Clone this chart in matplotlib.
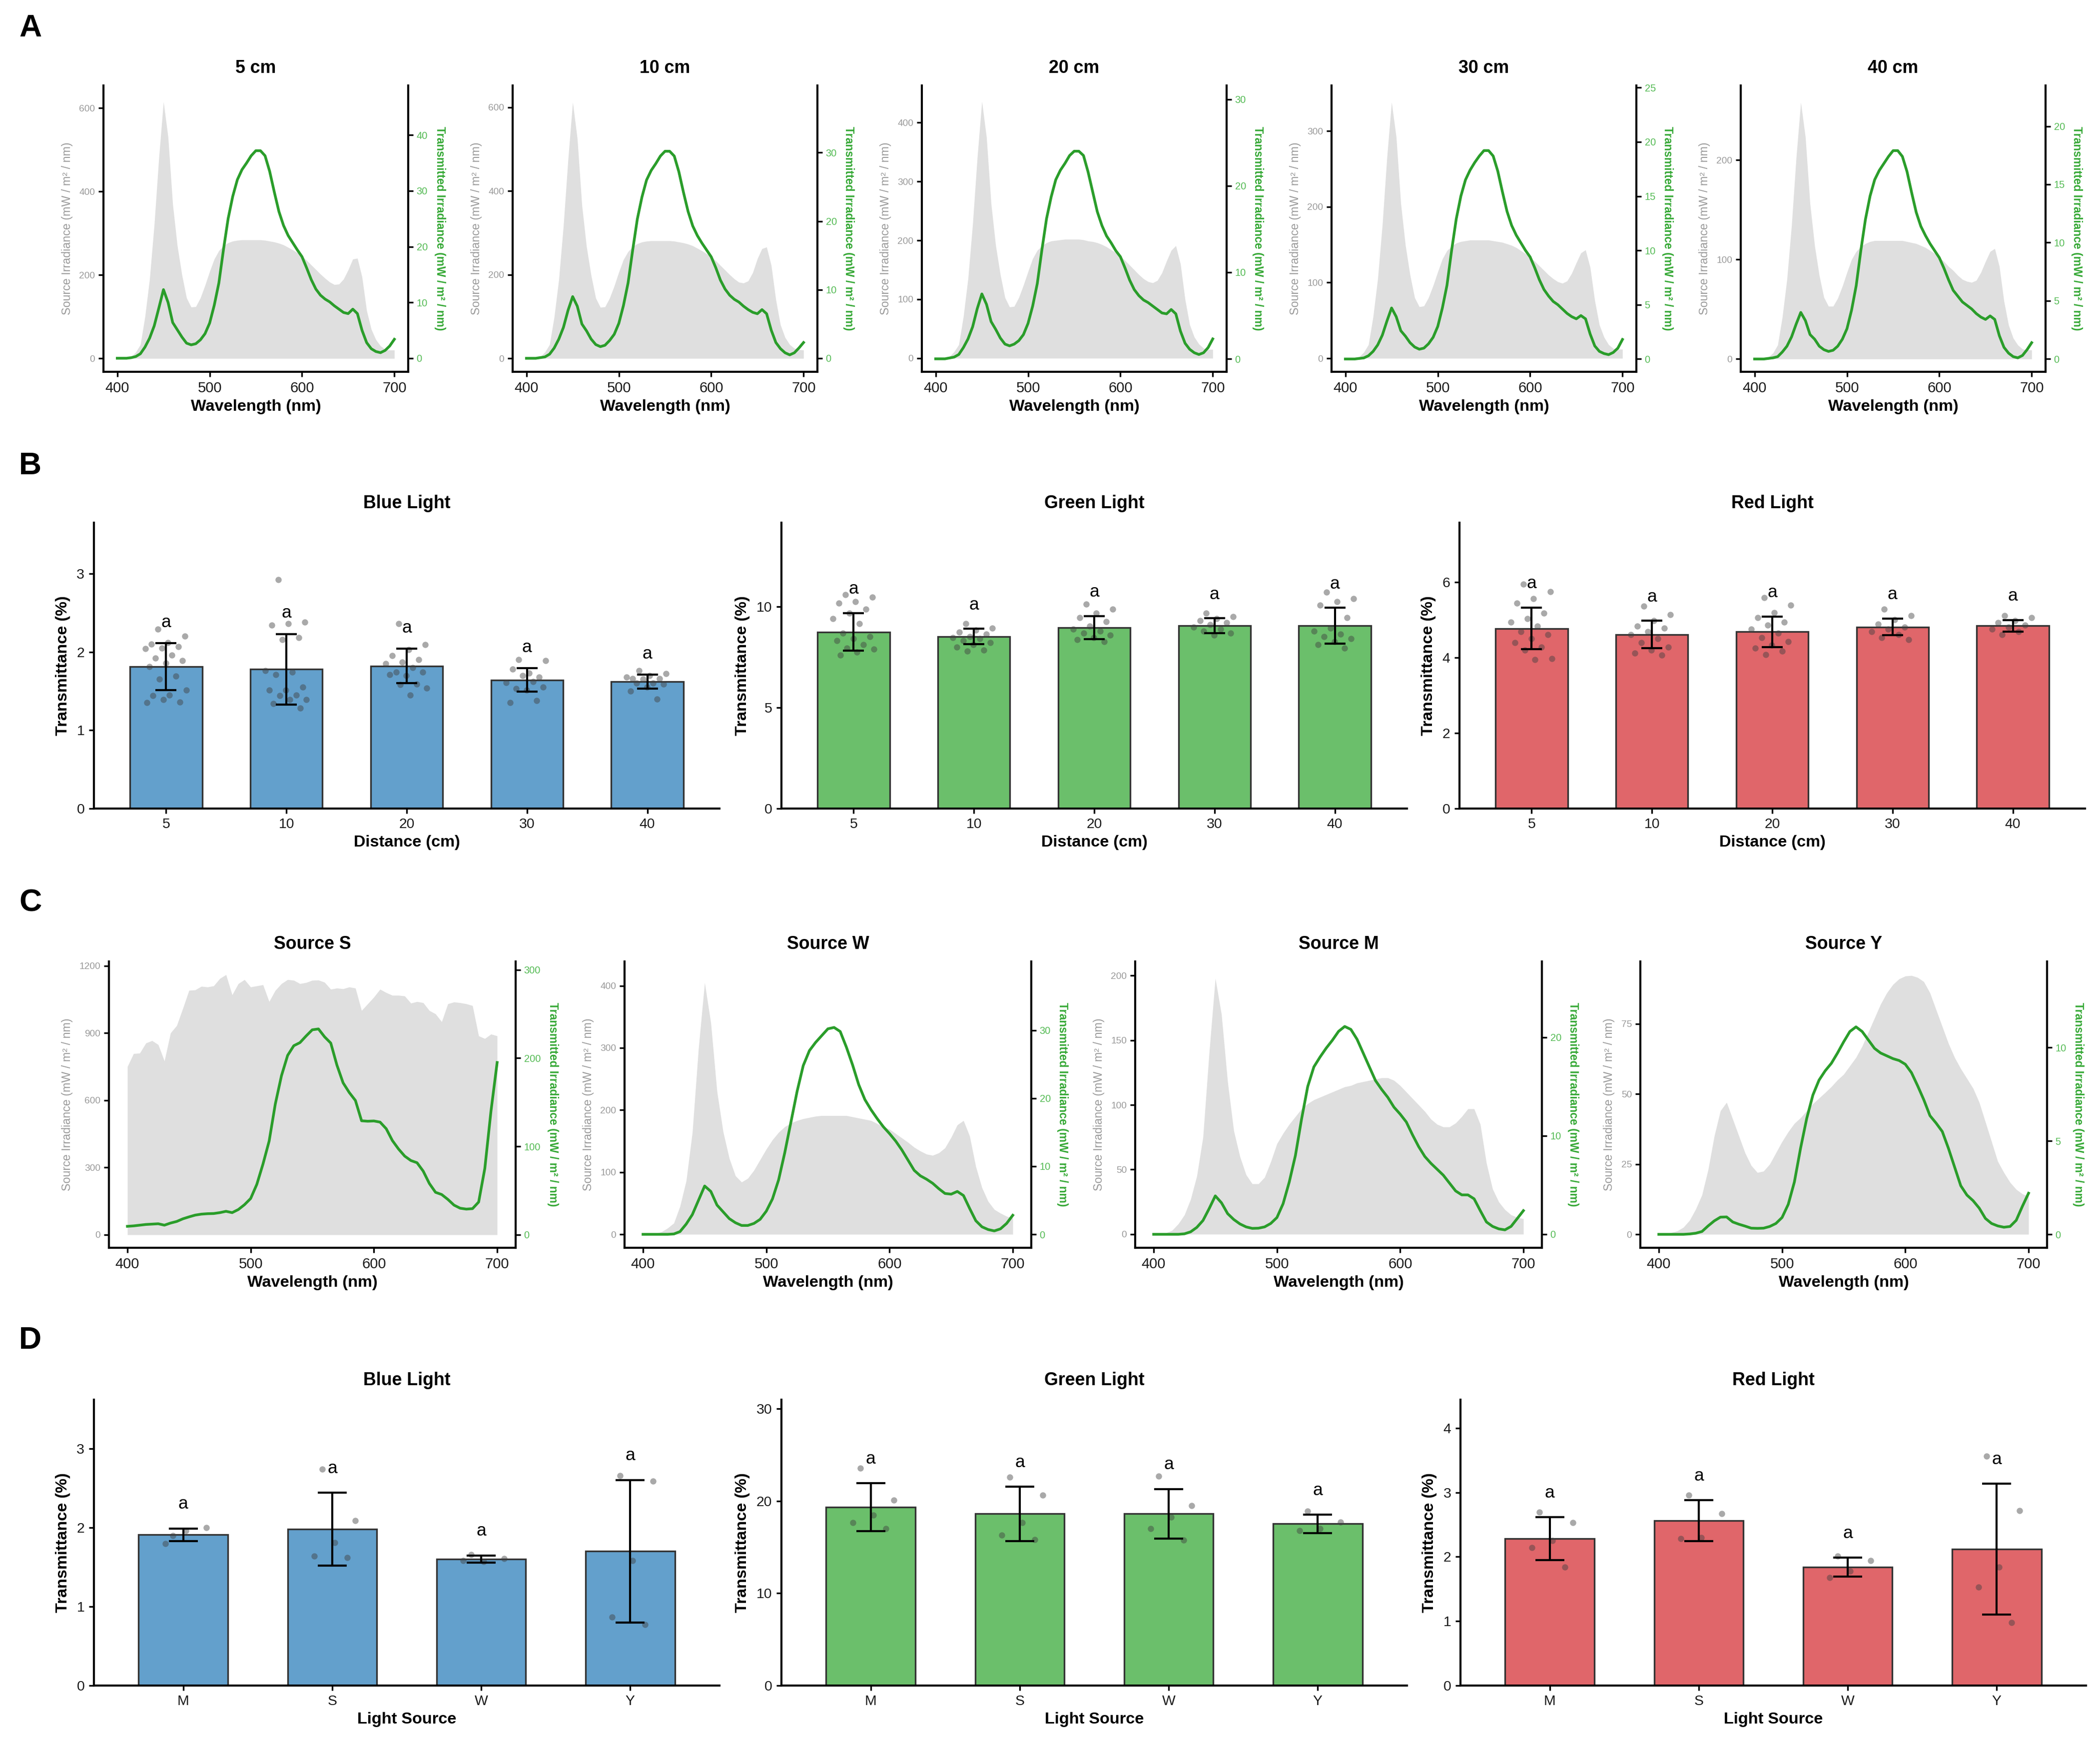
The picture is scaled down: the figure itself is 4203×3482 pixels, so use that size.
import numpy as np
import matplotlib.pyplot as plt

plt.rcParams['font.family'] = ['Liberation Sans', 'DejaVu Sans']

# wavelength grid of the spectra (nm)
wl = np.arange(400, 701, 5)

# ---- panel A: source / transmitted spectra at each distance ----
distances_a = ['5 cm', '10 cm', '20 cm', '30 cm', '40 cm']

src_5cm = [0, 0, 1, 4, 15, 33, 100, 190, 320, 480, 615, 530, 370, 270, 200, 145, 123, 124, 145, 175,
           208, 238, 258, 270, 277, 281, 283, 284, 284, 284, 284, 284, 283, 281, 279, 276, 272, 266, 260, 253,
           245, 235, 224, 213, 202, 192, 183, 177, 178, 190, 212, 238, 240, 195, 115, 70, 45, 30, 22, 20, 20]
src_10cm = [0, 0, 1, 4, 15, 33, 99, 188, 317, 475, 612, 525, 366, 267, 198, 144, 122, 123, 144, 173,
            206, 236, 255, 267, 274, 278, 280, 281, 281, 281, 281, 281, 280, 278, 276, 273, 269, 263, 257, 250,
            243, 233, 222, 211, 200, 190, 182, 180, 185, 205, 238, 262, 266, 222, 140, 80, 50, 33, 24, 21, 20]
src_20cm = [0, 0, 1, 3, 11, 23, 71, 135, 227, 340, 436, 375, 262, 191, 142, 103, 87, 88, 103, 124,
            147, 169, 183, 191, 196, 199, 200, 201, 202, 202, 202, 202, 201, 199, 198, 196, 193, 189, 184, 179,
            173, 166, 158, 150, 142, 135, 130, 128, 132, 145, 165, 183, 191, 160, 100, 57, 36, 24, 17, 15, 15]
src_30cm = [0, 0, 1, 2, 8, 18, 55, 105, 176, 265, 338, 292, 204, 149, 110, 80, 68, 69, 80, 96,
            114, 131, 142, 148, 152, 154, 155, 156, 156, 156, 156, 156, 155, 154, 153, 151, 149, 146, 142, 138,
            133, 128, 122, 116, 110, 105, 101, 99, 102, 112, 126, 139, 143, 120, 76, 44, 28, 18, 13, 12, 12]
src_40cm = [0, 0, 0, 2, 6, 14, 42, 80, 134, 202, 258, 223, 156, 114, 84, 62, 53, 53, 61, 73,
            87, 100, 108, 113, 116, 118, 119, 119, 119, 119, 119, 119, 119, 118, 117, 116, 114, 112, 109, 106,
            102, 98, 93, 89, 84, 80, 78, 77, 79, 87, 98, 108, 111, 93, 58, 34, 21, 14, 10, 9, 9]

tr_5cm = [0, 0, 0, 0.1, 0.3, 0.8, 2.0, 3.6, 5.8, 9.0, 12.3, 10.0, 6.4, 5.1, 3.8, 2.7, 2.4, 2.6, 3.3, 4.4,
          6.3, 9.5, 13.5, 19.5, 25.0, 29.0, 32.0, 33.8, 35.0, 36.3, 37.2, 37.2, 36.3, 33.5, 29.8, 26.3, 23.8, 22.0, 20.7, 19.4,
          18.2, 16.2, 14.1, 12.4, 11.3, 10.6, 10.1, 9.4, 8.8, 8.2, 8.0, 8.8, 8.0, 5.0, 2.8, 1.7, 1.2, 1.0, 1.4, 2.2, 3.4]
tr_10cm = [0, 0, 0, 0.1, 0.2, 0.6, 1.5, 2.8, 4.5, 7.0, 9.0, 7.6, 5.0, 4.0, 2.8, 2.0, 1.7, 1.9, 2.6, 3.5,
           5.1, 7.7, 11.0, 15.8, 20.3, 23.5, 26.0, 27.4, 28.4, 29.5, 30.2, 30.2, 29.5, 27.2, 24.2, 21.4, 19.3, 17.9, 16.8, 15.8,
           14.8, 13.2, 11.4, 10.1, 9.2, 8.6, 8.2, 7.6, 7.1, 6.7, 6.5, 7.1, 6.5, 4.1, 2.3, 1.4, 0.8, 0.5, 0.8, 1.5, 2.3]
tr_20cm = [0, 0, 0, 0.1, 0.2, 0.5, 1.3, 2.3, 3.7, 5.8, 7.5, 6.3, 4.3, 3.4, 2.4, 1.7, 1.5, 1.7, 2.1, 2.8,
           4.1, 6.1, 8.7, 12.6, 16.2, 18.7, 20.7, 21.8, 22.6, 23.5, 24.0, 24.0, 23.5, 21.6, 19.3, 17.0, 15.4, 14.2, 13.4, 12.5,
           11.8, 10.5, 9.1, 8.0, 7.3, 6.8, 6.5, 6.1, 5.7, 5.3, 5.2, 5.7, 5.2, 3.2, 1.8, 1.1, 0.7, 0.5, 0.7, 1.3, 2.3]
tr_30cm = [0, 0, 0, 0.05, 0.1, 0.3, 0.7, 1.3, 2.2, 3.5, 4.7, 3.9, 2.6, 2.1, 1.5, 1.1, 0.9, 1.0, 1.4, 2.0,
           3.0, 4.7, 6.8, 10.0, 12.9, 15.0, 16.5, 17.4, 18.1, 18.7, 19.2, 19.2, 18.7, 17.3, 15.4, 13.6, 12.3, 11.4, 10.7, 10.0,
           9.4, 8.4, 7.3, 6.4, 5.8, 5.3, 5.0, 4.6, 4.2, 3.9, 3.7, 4.0, 3.7, 2.3, 1.2, 0.7, 0.5, 0.4, 0.6, 1.0, 1.8]
tr_40cm = [0, 0, 0, 0.05, 0.1, 0.2, 0.6, 1.1, 1.9, 3.0, 4.0, 3.3, 2.1, 1.7, 1.1, 0.8, 0.65, 0.75, 1.1, 1.7,
           2.6, 4.2, 6.3, 9.3, 12.0, 14.0, 15.4, 16.2, 16.8, 17.4, 17.9, 17.9, 17.4, 16.1, 14.3, 12.6, 11.4, 10.6, 9.9, 9.3,
           8.7, 7.8, 6.8, 5.9, 5.4, 4.9, 4.6, 4.3, 3.9, 3.6, 3.4, 3.7, 3.4, 2.0, 1.0, 0.5, 0.2, 0.1, 0.3, 0.8, 1.4]

# ---- panel C: source / transmitted spectra for each light source ----
sources_c = ['Source S', 'Source W', 'Source M', 'Source Y']

src_S = [750, 808, 810, 855, 866, 848, 775, 900, 933, 1010, 1090, 1092, 1108, 1105, 1110, 1143, 1160, 1070, 1120, 1138,
         1105, 1110, 1115, 1040, 1090, 1120, 1138, 1135, 1120, 1125, 1135, 1136, 1126, 1095, 1100, 1097, 1105, 1100, 1000, 1030,
         1060, 1095, 1080, 1068, 1068, 1065, 1033, 1040, 1035, 1000, 985, 950, 1030, 1038, 1035, 1030, 1022, 887, 875, 895, 887]
src_W = [0, 0, 1, 4, 10, 18, 45, 86, 164, 299, 405, 340, 230, 165, 122, 94, 84, 90, 103, 120,
         137, 152, 164, 173, 179, 183, 186, 188, 190, 191, 191, 191, 191, 191, 189, 187, 185, 183, 178, 173,
         169, 162, 155, 148, 140, 134, 129, 127, 131, 139, 156, 176, 183, 158, 109, 75, 53, 40, 34, 29, 26]
src_M = [0, 0, 1, 3, 8, 15, 27, 45, 75, 140, 198, 170, 118, 80, 60, 46, 39, 39, 44, 56,
         70, 78, 85, 91, 97, 101, 104, 106, 108, 110, 112, 114, 115, 117, 118, 119, 120, 121, 121, 119,
         115, 110, 105, 100, 95, 89, 85, 83, 83, 86, 91, 97, 97, 85, 55, 35, 25, 19, 15, 13, 12]
src_Y = [0, 0.2, 0.6, 1.2, 2.5, 5, 9, 14, 23, 35, 44, 47, 41, 35, 29, 24.5, 22, 22.5, 25, 29,
         33, 36.5, 39.5, 41.5, 44, 46.5, 48.5, 50.5, 52.6, 55, 57, 60, 63, 67, 72, 77, 82, 86, 89, 91,
         92, 92.2, 91.5, 90, 86, 80, 74, 68, 63, 59, 55.5, 52, 47, 40, 33, 26, 22, 18.5, 16, 14.4, 13.5]

tr_S = [9.5, 10.0, 10.8, 11.6, 12.0, 12.4, 10.8, 13.2, 15.0, 18.0, 20.2, 22.2, 23.3, 23.8, 24.0, 25.0, 26.5, 25.0, 28.5, 34.0,
        41.0, 57.0, 80.0, 106.0, 148.0, 180.0, 203.0, 214.0, 217.5, 225.0, 232.0, 233.0, 224.0, 217.0, 192.0, 172.0, 161.0, 152.0, 129.0, 128.5,
        128.8, 127.5, 120.0, 106.6, 97.0, 89.0, 84.0, 81.5, 72.0, 58.0, 48.0, 45.5, 40.0, 33.5, 30.0, 29.0, 29.5, 37.0, 75.0, 140.0, 195.0]
tr_W = [0, 0, 0, 0, 0, 0.05, 0.4, 1.5, 2.9, 5.0, 7.1, 6.3, 4.3, 3.3, 2.3, 1.7, 1.3, 1.3, 1.6, 2.2,
        3.4, 5.2, 8.0, 12.0, 16.5, 21.0, 24.8, 27.0, 28.2, 29.2, 30.2, 30.4, 29.8, 27.5, 24.9, 22.0, 19.8, 18.3, 17.0, 15.8,
        14.8, 13.7, 12.4, 10.9, 9.4, 8.6, 8.1, 7.5, 6.7, 6.0, 5.9, 6.3, 5.7, 3.8, 2.0, 1.1, 0.7, 0.5, 0.8, 1.6, 2.8]
tr_M = [0, 0, 0, 0, 0, 0.05, 0.25, 0.7, 1.4, 2.6, 3.9, 3.2, 2.1, 1.5, 1.05, 0.75, 0.6, 0.62, 0.75, 1.1,
        1.7, 3.1, 5.3, 8.0, 11.7, 15.0, 17.0, 18.0, 18.9, 19.7, 20.6, 21.1, 20.8, 19.8, 18.4, 17.0, 15.6, 14.7, 13.9, 12.9,
        12.2, 11.4, 10.1, 8.9, 7.9, 7.2, 6.6, 6.0, 5.2, 4.4, 4.0, 4.0, 3.6, 2.4, 1.25, 0.8, 0.55, 0.45, 0.8, 1.6, 2.4]
tr_Y = [0, 0, 0, 0, 0, 0.02, 0.06, 0.15, 0.45, 0.72, 0.92, 0.93, 0.66, 0.54, 0.44, 0.33, 0.32, 0.33, 0.42, 0.58,
        0.9, 1.6, 2.8, 4.6, 6.2, 7.45, 8.25, 8.75, 9.15, 9.7, 10.3, 10.85, 11.1, 10.85, 10.4, 9.95, 9.7, 9.55, 9.4, 9.3,
        9.1, 8.65, 7.95, 7.2, 6.35, 5.95, 5.5, 4.6, 3.6, 2.6, 2.1, 1.8, 1.4, 0.85, 0.58, 0.45, 0.38, 0.42, 0.75, 1.5, 2.2]

# ---- panel B: transmittance vs distance ----
dist_labels = ['5', '10', '20', '30', '40']
b_blue_mean = [1.81, 1.78, 1.82, 1.64, 1.62]
b_blue_sd = [0.30, 0.45, 0.22, 0.15, 0.09]
b_green_mean = [8.75, 8.52, 8.96, 9.06, 9.06]
b_green_sd = [0.93, 0.38, 0.57, 0.36, 0.88]
b_red_mean = [4.77, 4.61, 4.68, 4.81, 4.84]
b_red_sd = [0.55, 0.36, 0.40, 0.22, 0.155]
b_letters = ['a', 'a', 'a', 'a', 'a']

b_blue_pts = [
    [2.29, 2.20, 2.12, 2.10, 2.07, 2.05, 2.04, 1.96, 1.92, 1.89, 1.86, 1.81, 1.69, 1.65, 1.51, 1.45, 1.44, 1.36, 1.39, 1.35],
    [2.92, 2.38, 2.36, 2.34, 2.18, 2.16, 1.76, 1.74, 1.71, 1.55, 1.51, 1.51, 1.45, 1.44, 1.39, 1.39, 1.34, 1.28],
    [2.36, 2.09, 2.03, 1.95, 1.90, 1.87, 1.85, 1.80, 1.74, 1.74, 1.70, 1.71, 1.59, 1.58, 1.54, 1.45],
    [1.90, 1.89, 1.73, 1.78, 1.68, 1.70, 1.61, 1.62, 1.53, 1.55, 1.51, 1.35, 1.38],
    [1.76, 1.72, 1.70, 1.66, 1.66, 1.65, 1.68, 1.60, 1.60, 1.59, 1.55, 1.50, 1.40],
]
b_green_pts = [
    [10.60, 10.48, 10.24, 10.17, 9.88, 9.67, 9.41, 9.15, 8.68, 8.52, 8.42, 8.32, 8.11, 7.95, 7.90, 7.74, 7.59],
    [9.15, 8.94, 8.84, 8.73, 8.63, 8.52, 8.47, 8.42, 8.32, 8.21, 8.11, 8.00, 7.85, 7.80],
    [10.13, 9.88, 9.67, 9.46, 9.25, 9.04, 8.89, 8.78, 8.68, 8.58, 8.47, 8.37, 8.26],
    [9.67, 9.51, 9.41, 9.30, 9.20, 9.10, 8.99, 8.89, 8.78, 8.68, 8.58],
    [10.71, 10.40, 10.24, 10.08, 9.46, 8.94, 8.78, 8.63, 8.52, 8.42, 8.26, 8.11, 7.95],
]
b_red_pts = [
    [5.94, 5.75, 5.56, 5.44, 5.17, 5.03, 4.94, 4.83, 4.69, 4.61, 4.50, 4.39, 4.28, 4.19, 3.97, 3.94],
    [5.36, 5.14, 4.97, 4.83, 4.78, 4.69, 4.61, 4.50, 4.39, 4.28, 4.19, 4.11, 4.06],
    [5.58, 5.39, 5.19, 5.06, 4.94, 4.86, 4.75, 4.64, 4.53, 4.42, 4.33, 4.25, 4.17, 4.08],
    [5.28, 5.11, 5.00, 4.89, 4.81, 4.75, 4.69, 4.61, 4.53, 4.47],
    [5.11, 5.06, 4.97, 4.92, 4.86, 4.81, 4.75, 4.69, 4.61],
]

# ---- panel D: transmittance vs light source ----
source_labels = ['M', 'S', 'W', 'Y']
d_blue_mean = [1.91, 1.98, 1.60, 1.70]
d_blue_sd = [0.08, 0.46, 0.045, 0.90]
d_green_mean = [19.36, 18.63, 18.63, 17.54]
d_green_sd = [2.6, 2.95, 2.69, 0.99]
d_red_mean = [2.28, 2.56, 1.84, 2.12]
d_red_sd = [0.335, 0.32, 0.15, 1.015]
d_letters = ['a', 'a', 'a', 'a']

d_blue_pts = [[1.90, 2.00, 1.96, 1.80], [2.74, 2.09, 1.81, 1.64, 1.62],
              [1.66, 1.61, 1.57, 1.58], [2.66, 2.59, 1.58, 0.87, 0.77]]
d_green_pts = [[23.57, 20.12, 18.46, 17.65, 17.0], [22.62, 20.66, 17.65, 16.29, 15.83],
               [22.70, 19.5, 18.25, 17.0, 15.75], [18.9, 17.73, 17.0, 16.78]]
d_red_pts = [[2.69, 2.53, 2.25, 2.14, 1.84], [2.96, 2.67, 2.30, 2.28],
             [2.01, 1.94, 1.78, 1.68], [3.56, 2.72, 1.84, 1.53, 0.98]]

# ---- colours ----
FILL = '#dfdfdf'
LINE_G = '#2a9d2a'
TICK_G = '#55bb55'
LAB_G = '#35a835'
GREY = '#9a9a9a'
BLUE = '#63a0cc'
GREEN = '#6bbf6b'
RED = '#e0666a'

W, H = 4203, 3482
fig = plt.figure(figsize=(W / 300, H / 300), dpi=300)


def add_ax(left, top, width, height):
    return fig.add_axes([left / W, 1 - (top + height) / H, width / W, height / H])


def spectrum(left, top, width, title, src, tr, lim_src, lim_tr, ticks_src, ticks_tr):
    ax = add_ax(left, top, width, 573)
    ax.fill_between(wl, 0, src, color=FILL, lw=0)
    ax.set_xlim(385, 715)
    ax.set_ylim(*lim_src)
    ax.set_xticks([400, 500, 600, 700])
    ax.set_yticks(ticks_src)
    ax.tick_params(axis='x', labelsize=7, labelcolor='#1a1a1a', length=2.5, width=0.8, pad=2)
    ax.tick_params(axis='y', labelsize=4.6, labelcolor=GREY, length=2.5, width=0.8, pad=1.5)
    ax.set_xlabel('Wavelength (nm)', fontsize=7.8, fontweight='bold', labelpad=2)
    ax.set_ylabel('Source Irradiance (mW / m² / nm)', fontsize=5.6, color=GREY, labelpad=3)
    ax.set_title(title, fontsize=8.6, fontweight='bold', pad=6)
    for s in ['top', 'right']:
        ax.spines[s].set_visible(False)
    for s in ['left', 'bottom']:
        ax.spines[s].set_linewidth(1.0)

    ax2 = ax.twinx()
    ax2.plot(wl, tr, color=LINE_G, lw=1.3)
    ax2.set_ylim(*lim_tr)
    ax2.set_yticks(ticks_tr)
    ax2.tick_params(axis='y', labelsize=4.8, labelcolor=TICK_G, length=2.5, width=0.8, pad=1.5)
    ax2.set_ylabel('Transmitted Irradiance (mW / m² / nm)', fontsize=5.5, fontweight='bold',
                   color=LAB_G, rotation=270, va='bottom', labelpad=3)
    for s in ['top', 'left', 'bottom']:
        ax2.spines[s].set_visible(False)
    ax2.spines['right'].set_linewidth(1.0)


def bar_panel(left, top, title, cats, means, sds, pts, letters, color, ylim, yticks, xlabel, capsize):
    ax = add_ax(left, top, 1252, 572)
    x = np.arange(len(cats))
    ax.bar(x, means, width=0.6, color=color, edgecolor='#333333', lw=0.8, zorder=2)
    for i, p in enumerate(pts):
        jit = ((np.arange(len(p)) * 0.618034 + 0.31) % 1 - 0.5) * 0.36
        ax.scatter(x[i] + jit, p, s=9, color='#404040', alpha=0.45, lw=0, zorder=3)
    ax.errorbar(x, means, yerr=sds, fmt='none', ecolor='black', elinewidth=1.0,
                capsize=capsize, capthick=1.0, zorder=4)
    off = 0.12 * max(m + s for m, s in zip(means, sds))
    for i in range(len(cats)):
        ax.text(x[i], means[i] + sds[i] + off, letters[i], ha='center', va='center', fontsize=8.5)
    ax.set_xlim(-0.6, len(cats) - 0.4)
    ax.set_ylim(*ylim)
    ax.set_xticks(x)
    ax.set_xticklabels(cats)
    ax.set_yticks(yticks)
    ax.tick_params(labelsize=6.8, labelcolor='#1a1a1a', length=2.5, width=0.8, pad=2)
    ax.set_xlabel(xlabel, fontsize=7.8, fontweight='bold', labelpad=2)
    ax.set_ylabel('Transmittance (%)', fontsize=7.8, fontweight='bold', labelpad=3)
    ax.set_title(title, fontsize=8.6, fontweight='bold', pad=7)
    for s in ['top', 'right']:
        ax.spines[s].set_visible(False)
    for s in ['left', 'bottom']:
        ax.spines[s].set_linewidth(1.0)


# panel A
a_lefts = [207, 1026, 1845, 2665, 3484]
a_src = [src_5cm, src_10cm, src_20cm, src_30cm, src_40cm]
a_tr = [tr_5cm, tr_10cm, tr_20cm, tr_30cm, tr_40cm]
a_lim_src = [(-32, 654), (-32, 652), (-23, 463), (-17.8, 360), (-12.9, 275)]
a_lim_tr = [(-2.43, 48.9), (-1.97, 39.8), (-1.5, 31.6), (-1.18, 25.2), (-1.1, 23.5)]
a_ticks_src = [[0, 200, 400, 600], [0, 200, 400, 600], [0, 100, 200, 300, 400], [0, 100, 200, 300], [0, 100, 200]]
a_ticks_tr = [[0, 10, 20, 30, 40], [0, 10, 20, 30], [0, 10, 20, 30], [0, 5, 10, 15, 20, 25], [0, 5, 10, 15, 20]]
for i in range(5):
    spectrum(a_lefts[i], 171, 610, distances_a[i], a_src[i], a_tr[i],
             a_lim_src[i], a_lim_tr[i], a_ticks_src[i], a_ticks_tr[i])

# panel B
bar_panel(188, 1046, 'Blue Light', dist_labels, b_blue_mean, b_blue_sd, b_blue_pts, b_letters,
          BLUE, (0, 3.65), [0, 1, 2, 3], 'Distance (cm)', 5)
bar_panel(1564, 1046, 'Green Light', dist_labels, b_green_mean, b_green_sd, b_green_pts, b_letters,
          GREEN, (0, 14.16), [0, 5, 10], 'Distance (cm)', 5)
bar_panel(2921, 1046, 'Red Light', dist_labels, b_red_mean, b_red_sd, b_red_pts, b_letters,
          RED, (0, 7.57), [0, 2, 4, 6], 'Distance (cm)', 5)

# panel C
c_lefts = [218, 1250, 2272, 3283]
c_src = [src_S, src_W, src_M, src_Y]
c_tr = [tr_S, tr_W, tr_M, tr_Y]
c_lim_src = [(-58, 1219), (-21.7, 439), (-10.5, 211), (-4.8, 97.2)]
c_lim_tr = [(-14.8, 309.4), (-1.98, 40.1), (-1.37, 27.7), (-0.72, 14.6)]
c_ticks_src = [[0, 300, 600, 900, 1200], [0, 100, 200, 300, 400], [0, 50, 100, 150, 200], [0, 25, 50, 75]]
c_ticks_tr = [[0, 100, 200, 300], [0, 10, 20, 30], [0, 10, 20], [0, 5, 10]]
for i in range(4):
    spectrum(c_lefts[i], 1924, 814, sources_c[i], c_src[i], c_tr[i],
             c_lim_src[i], c_lim_tr[i], c_ticks_src[i], c_ticks_tr[i])

# panel D
bar_panel(188, 2801, 'Blue Light', source_labels, d_blue_mean, d_blue_sd, d_blue_pts, d_letters,
          BLUE, (0, 3.62), [0, 1, 2, 3], 'Light Source', 7)
bar_panel(1564, 2801, 'Green Light', source_labels, d_green_mean, d_green_sd, d_green_pts, d_letters,
          GREEN, (0, 31.0), [0, 10, 20, 30], 'Light Source', 7)
bar_panel(2923, 2801, 'Red Light', source_labels, d_red_mean, d_red_sd, d_red_pts, d_letters,
          RED, (0, 4.44), [0, 1, 2, 3, 4], 'Light Source', 7)

# panel letters
for lab, ytop in zip(['A', 'B', 'C', 'D'], [27, 903, 1777, 2653]):
    fig.text(38 / W, 1 - ytop / H, lab, fontsize=15, fontweight='bold', va='top', ha='left')

fig.savefig('out.png', dpi=300)
